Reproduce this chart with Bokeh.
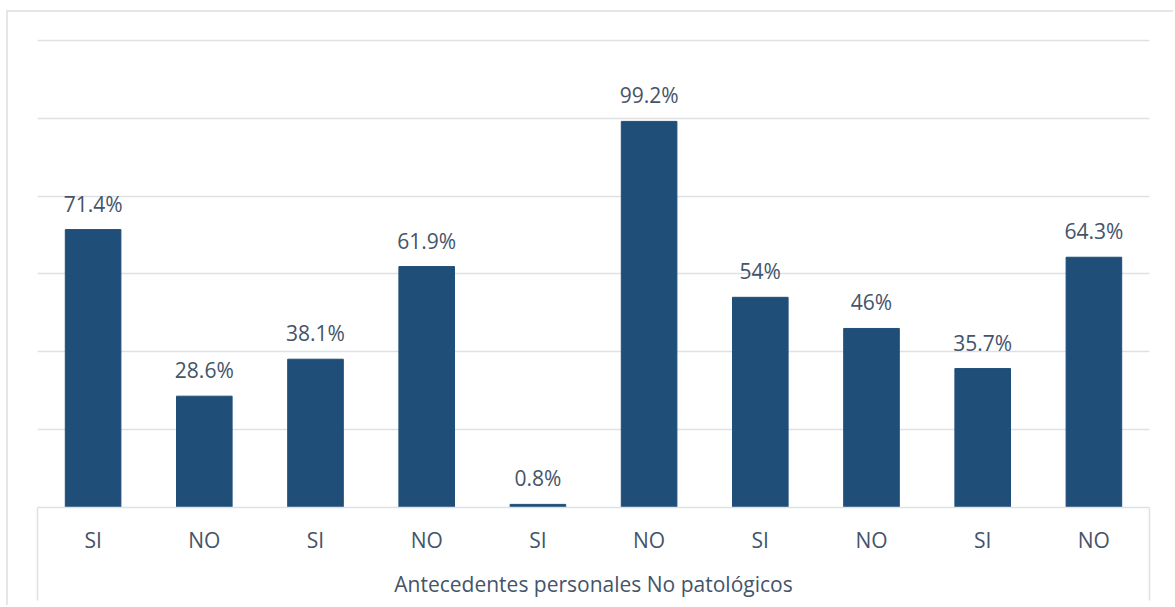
from bokeh.plotting import figure
from bokeh.models import (ColumnDataSource, Range1d, FixedTicker, LabelSet,
                          CustomJSTickFormatter)
from bokeh.core.properties import value
from bokeh.embed import file_html
from bokeh.resources import INLINE

categories = ["SI", "NO", "SI", "NO", "SI", "NO", "SI", "NO", "SI", "NO"]
values = [71.4, 28.6, 38.1, 61.9, 0.8, 99.2, 54, 46, 35.7, 64.3]
y_ticks = [0, 20, 40, 60, 80, 100, 120]
axis_title = "Antecedentes personales No patológicos"

BAR = "#1F4E79"
TXT = "#44546A"
GRID = "#dde1e6"
FONT = "Open Sans"
FS = "21px"

xs = [i + 0.5 for i in range(len(categories))]
source = ColumnDataSource(dict(
    x=xs, top=values, cat=categories,
    lbl=[f"{v:g}%" for v in values],
))

p = figure(width=1167, height=595, output_backend="svg", toolbar_location=None,
           x_range=Range1d(0, len(categories)),
           y_range=Range1d(y_ticks[0], y_ticks[-1] + 0.5),
           min_border_left=29, min_border_right=26, min_border_top=26,
           min_border_bottom=100)
p.styles = {"border-top": "2px solid #e3e6eb", "border-left": "2px solid #e3e6eb",
            "margin-left": "6px", "margin-top": "10px"}
p.outline_line_color = None
p.background_fill_color = "white"
p.border_fill_color = "white"

p.vbar(x="x", top="top", width=0.5, bottom=0, source=source,
       fill_color=BAR, line_color=BAR)

labels = LabelSet(x="x", y="top", text="lbl", source=source,
                  text_align="center", text_baseline="alphabetic", y_offset=18,
                  text_font=value(FONT), text_font_size=value(FS),
                  text_color=TXT)
p.add_layout(labels)

p.yaxis.visible = False
p.yaxis.ticker = FixedTicker(ticks=y_ticks)
p.ygrid.grid_line_color = GRID
p.ygrid.grid_line_width = 1.5
p.xgrid.visible = False

TICK_OUT = 93
xa = p.xaxis[0]
xa.ticker = FixedTicker(ticks=xs, minor_ticks=[0, len(categories)])
xa.formatter = CustomJSTickFormatter(args=dict(labels=categories),
                                     code="return labels[Math.floor(tick)];")
xa.axis_line_color = GRID
xa.axis_line_width = 1.5
xa.major_tick_line_color = None
xa.major_tick_out = 0
xa.major_tick_in = 0
xa.minor_tick_line_color = GRID
xa.minor_tick_line_width = 1.5
xa.minor_tick_out = TICK_OUT
xa.minor_tick_in = 0
xa.major_label_standoff = 18 - TICK_OUT
xa.major_label_text_font = FONT
xa.major_label_text_font_size = FS
xa.major_label_text_color = TXT
xa.axis_label = axis_title
xa.axis_label_standoff = 13
xa.axis_label_text_font = FONT
xa.axis_label_text_font_size = FS
xa.axis_label_text_font_style = "normal"
xa.axis_label_text_color = TXT

open("out.html", "w").write(file_html(p, INLINE))
